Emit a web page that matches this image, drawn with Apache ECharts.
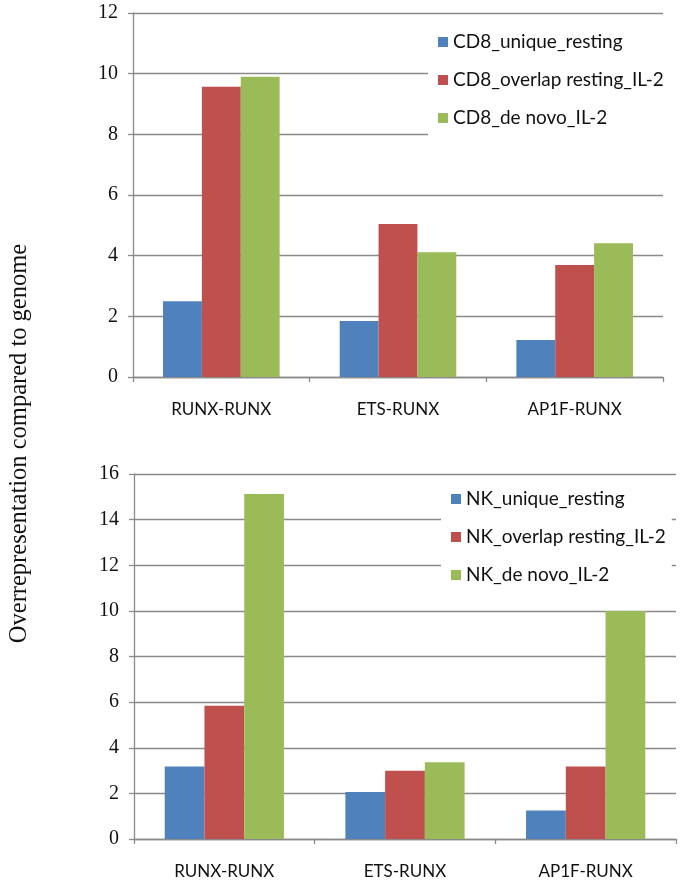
<!DOCTYPE html>
<html>
<head>
<meta charset="utf-8">
<script src="https://cdn.jsdelivr.net/npm/echarts@6/dist/echarts.min.js"></script>
<style>html,body{margin:0;padding:0;background:#fff;}#c{width:684px;height:887px;}</style>
</head>
<body>
<div id="c"></div>
<script>
var categories = ['RUNX-RUNX', 'ETS-RUNX', 'AP1F-RUNX'];
var cd8Names = ['CD8_unique_resting', 'CD8_overlap resting_IL-2', 'CD8_de novo_IL-2'];
var cd8Unique = [2.5, 1.85, 1.22];
var cd8Overlap = [9.57, 5.04, 3.69];
var cd8DeNovo = [9.9, 4.11, 4.41];
var nkNames = ['NK_unique_resting', 'NK_overlap resting_IL-2', 'NK_de novo_IL-2'];
var nkUnique = [3.18, 2.06, 1.25];
var nkOverlap = [5.84, 2.99, 3.18];
var nkDeNovo = [15.12, 3.36, 10.0];
var yTitle = 'Overrepresentation compared to genome';
var colors = ['#4F81BD', '#C0504D', '#9BBB59'];

var chart = echarts.init(document.getElementById('c'));
var axisGray = '#8a8a8a';
function xAx(gi) {
  return {
    type: 'category', gridIndex: gi, data: categories,
    axisLine: {lineStyle: {color: axisGray, width: 1.3}},
    axisTick: {show: true, length: 5, lineStyle: {color: axisGray, width: 1.3}},
    axisLabel: {fontFamily: 'Lato', fontSize: 17, color: '#111', margin: 24}
  };
}
function yAx(gi, max) {
  return {
    type: 'value', gridIndex: gi, min: 0, max: max, interval: 2,
    axisLine: {show: true, lineStyle: {color: axisGray, width: 1.3}},
    axisTick: {show: true, length: 5, lineStyle: {color: axisGray, width: 1.3}},
    splitLine: {lineStyle: {color: axisGray, width: 1.3}},
    axisLabel: {fontFamily: 'Liberation Serif', fontSize: 20, color: '#111', margin: 15}
  };
}
function bar(name, data, gi, ci) {
  return {
    name: name, type: 'bar', xAxisIndex: gi, yAxisIndex: gi, data: data,
    barGap: '0%', barCategoryGap: '34%', itemStyle: {color: colors[ci]},
    animation: false
  };
}
var legendText = {fontFamily: 'Lato', fontSize: 19, color: '#111', lineHeight: 20};
chart.setOption({
  animation: false,
  grid: [
    {left: 133, right: 21, top: 13, height: 364},
    {left: 134, right: 8, top: 474, height: 365}
  ],
  xAxis: [xAx(0), xAx(1)],
  yAxis: [yAx(0, 12), yAx(1, 16)],
  legend: [
    {data: cd8Names, orient: 'vertical', left: 428, top: 22, itemWidth: 10, itemHeight: 10,
     itemGap: 18, backgroundColor: '#fff', padding: [10, 6, 10, 10], icon: 'rect',
     textStyle: legendText, itemStyle: {borderWidth: 0}},
    {data: nkNames, orient: 'vertical', left: 441, top: 479, itemWidth: 10, itemHeight: 10,
     itemGap: 18, backgroundColor: '#fff', padding: [10, 6, 10, 10], icon: 'rect',
     textStyle: legendText, itemStyle: {borderWidth: 0}}
  ],
  graphic: [{
    type: 'text', left: 7, top: 'middle', rotation: Math.PI / 2,
    style: {text: yTitle, fontFamily: 'Liberation Serif', fontSize: 24.5, fill: '#111'}
  }],
  series: [
    bar(cd8Names[0], cd8Unique, 0, 0),
    bar(cd8Names[1], cd8Overlap, 0, 1),
    bar(cd8Names[2], cd8DeNovo, 0, 2),
    bar(nkNames[0], nkUnique, 1, 0),
    bar(nkNames[1], nkOverlap, 1, 1),
    bar(nkNames[2], nkDeNovo, 1, 2)
  ]
});
</script>
</body>
</html>
